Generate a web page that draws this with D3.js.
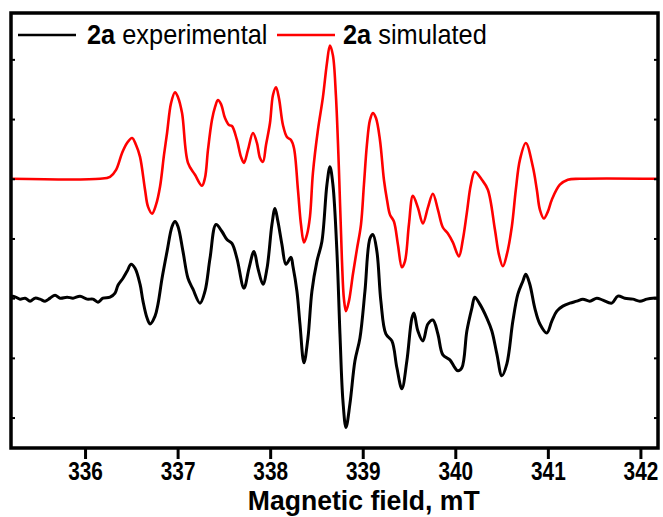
<!DOCTYPE html>
<html>
<head>
<meta charset="utf-8">
<script src="https://cdn.jsdelivr.net/npm/d3@7"></script>
<style>
  html, body { margin: 0; padding: 0; background: #fff; }
  svg { display: block; }
  text { font-family: "Liberation Sans", Arial, Helvetica, sans-serif; }
</style>
</head>
<body>
<svg id="chart" width="663" height="517"></svg>
<script>
// ---------------- DATA ----------------
// Magnetic field (mT) and intensity (a.u., relative to each trace's baseline)
const simField = [335.20,336.162,336.27,336.335,336.40,336.454,336.508,336.551,336.594,336.648,336.680,336.724,336.767,336.810,336.853,336.886,336.929,336.972,337.004,337.048,337.112,337.188,337.263,337.296,337.328,337.371,337.404,337.436,337.469,337.512,337.555,337.587,337.641,337.685,337.717,337.760,337.814,337.857,337.890,337.922,337.955,337.998,338.030,338.063,338.095,338.138,338.181,338.225,338.257,338.300,338.333,338.365,338.398,338.430,338.462,338.516,338.570,338.613,338.646,338.678,338.710,338.743,338.775,338.797,338.819,338.851,338.894,338.937,338.981,339.013,339.045,339.078,339.110,339.143,339.186,339.229,339.262,339.294,339.337,339.380,339.423,339.456,339.499,339.542,339.596,339.650,339.704,339.758,339.812,339.866,339.920,339.974,340.039,340.082,340.125,340.168,340.211,340.287,340.352,340.428,340.471,340.514,340.557,340.611,340.654,340.698,340.762,340.838,340.881,340.914,340.957,341.000,341.043,341.130,341.216,341.346,342.19];
const simValue = [0,0,2,9,26,36,41,34,22,-11,-28,-35,-26,-8,24,46,76,87,82,66,16,4,-7,1,29,59,72,79,75,61,54,53,39,22,16,29,46,36,21,17,34,56,84,92,81,54,42,39,31,-11,-46,-64,-56,-38,6,49,82,116,134,124,84,9,-81,-121,-133,-123,-96,-71,-46,-6,34,59,66,61,39,-1,-21,-36,-43,-66,-89,-83,-46,-17,-29,-45,-29,-15,-31,-49,-55,-64,-78,-61,-34,-6,7,-1,-11,-51,-76,-88,-76,-48,-11,19,36,12,-11,-31,-40,-33,-21,-6,-1,0,0];

const expField = [335.20,335.222,335.298,335.352,335.406,335.460,335.514,335.568,335.622,335.676,335.730,335.806,335.870,335.946,336.022,336.086,336.140,336.194,336.270,336.324,336.356,336.410,336.454,336.497,336.540,336.594,336.626,336.670,336.702,336.756,336.788,336.832,336.886,336.940,336.972,337.004,337.058,337.112,337.166,337.242,337.296,337.350,337.415,337.479,337.533,337.587,337.641,337.717,337.771,337.825,337.868,337.922,337.966,338.019,338.052,338.084,338.127,338.171,338.225,338.246,338.289,338.322,338.365,338.408,338.451,338.505,338.559,338.613,338.646,338.678,338.721,338.754,338.786,338.819,338.862,338.916,338.970,339.024,339.078,339.110,339.153,339.196,339.250,339.315,339.369,339.423,339.477,339.531,339.553,339.596,339.650,339.704,339.758,339.812,339.866,339.942,339.996,340.028,340.071,340.125,340.179,340.211,340.265,340.341,340.395,340.449,340.503,340.557,340.622,340.676,340.730,340.762,340.805,340.859,340.914,340.989,341.043,341.097,341.162,341.238,341.313,341.378,341.454,341.529,341.594,341.691,341.756,341.832,341.918,341.994,342.069,342.134,342.19];
const expValue = [0,2,-1,0,-3,0,-1,-3,0,3,0,1,0,2,-1,-1,-4,0,1,5,13,20,27,34,30,14,-3,-20,-26,-18,-6,20,47,72,77,72,47,20,9,-5,7,40,74,67,59,55,40,10,30,47,30,14,30,74,90,77,54,34,41,32,7,-26,-65,-40,7,37,57,114,132,114,47,-36,-103,-130,-106,-63,-40,7,60,64,47,-3,-36,-43,-70,-91,-63,-20,-15,-33,-43,-26,-22,-36,-57,-62,-70,-73,-70,-33,-10,1,-6,-20,-33,-56,-78,-66,-23,4,17,24,14,-10,-26,-35,-23,-13,-8,-5,-3,-1,-3,0,-2,-5,2,0,-1,-3,-1,0,0];

const xTicks = [336, 337, 338, 339, 340, 341, 342];
const yTicks = [-180, -120, -60, 0, 60, 120, 180];
const seriesNames = ["experimental", "simulated"];
const seriesLabel = "2a";
const offsets = { experimental: -60, simulated: 60 };
const colors = { experimental: "#000000", simulated: "#ff0000" };
const xTitle = "Magnetic field, mT";

// ---------------- CHART ----------------
const svg = d3.select("#chart");
const L = 11, R = 658, T = 13, B = 448;

const x = d3.scaleLinear().domain([335.2, 342.19]).range([L, R]);
const y = d3.scaleLinear().domain([-210.6, 226.6]).range([B, T]);

const series = {
  experimental: expField.map((f, i) => ({ f, v: expValue[i] + offsets.experimental })),
  simulated: simField.map((f, i) => ({ f, v: simValue[i] + offsets.simulated }))
};

const line = d3.line()
  .x(d => x(d.f))
  .y(d => y(d.v))
  .curve(d3.curveCatmullRom.alpha(0.5));

svg.append("clipPath").attr("id", "clip")
  .append("rect").attr("x", L).attr("y", T).attr("width", R - L).attr("height", B - T);

const plot = svg.append("g").attr("clip-path", "url(#clip)");
plot.append("path").datum(series.experimental)
  .attr("d", line).attr("fill", "none")
  .attr("stroke", colors.experimental).attr("stroke-width", 3)
  .attr("stroke-linejoin", "round");
plot.append("path").datum(series.simulated)
  .attr("d", line).attr("fill", "none")
  .attr("stroke", colors.simulated).attr("stroke-width", 2.6)
  .attr("stroke-linejoin", "round");

// Axes
const xAxis = svg.append("g").attr("transform", `translate(0,${B})`)
  .call(d3.axisBottom(x).tickValues(xTicks).tickSize(11).tickSizeOuter(0).tickPadding(3).tickFormat(d3.format("d")));
xAxis.select(".domain").remove();
xAxis.selectAll(".tick line").attr("stroke", "#000").attr("stroke-width", 3);
xAxis.selectAll(".tick text")
  .attr("font-size", 26).attr("font-weight", "bold").attr("fill", "#000")
  .attr("transform", "scale(0.8,1)");

const yAxisL = svg.append("g").attr("transform", `translate(${L},0)`)
  .call(d3.axisLeft(y).tickValues(yTicks).tickSize(-4).tickSizeOuter(0).tickFormat(""));
yAxisL.select(".domain").remove();
yAxisL.selectAll(".tick line").attr("stroke", "#000").attr("stroke-width", 2);

const yAxisR = svg.append("g").attr("transform", `translate(${R},0)`)
  .call(d3.axisRight(y).tickValues(yTicks).tickSize(-4).tickSizeOuter(0).tickFormat(""));
yAxisR.select(".domain").remove();
yAxisR.selectAll(".tick line").attr("stroke", "#000").attr("stroke-width", 2);

// Frame
svg.append("rect").attr("x", L).attr("y", T).attr("width", R - L).attr("height", B - T)
  .attr("fill", "none").attr("stroke", "#000").attr("stroke-width", 3.5);

// Axis title
svg.append("g").attr("transform", `translate(${(x(336) + x(342)) / 2 + 1},510)`)
  .append("text").attr("text-anchor", "middle")
  .attr("font-size", 28).attr("font-weight", "bold")
  .attr("transform", "scale(0.95,1)")
  .text(xTitle);

// Legend
const legendItems = [
  { name: "experimental", x0: 18, x1: 76, tx: 87 },
  { name: "simulated", x0: 277, x1: 335, tx: 343 }
];
const lg = svg.append("g");
legendItems.forEach(it => {
  lg.append("line").attr("x1", it.x0).attr("x2", it.x1).attr("y1", 35).attr("y2", 35)
    .attr("stroke", colors[it.name]).attr("stroke-width", 2.6);
  const t = lg.append("g").attr("transform", `translate(${it.tx},44)`)
    .append("text").attr("font-size", 28.5).attr("transform", "scale(0.89,1)");
  t.append("tspan").attr("font-weight", "bold").text(seriesLabel);
  t.append("tspan").text(" " + it.name);
});
</script>
</body>
</html>
